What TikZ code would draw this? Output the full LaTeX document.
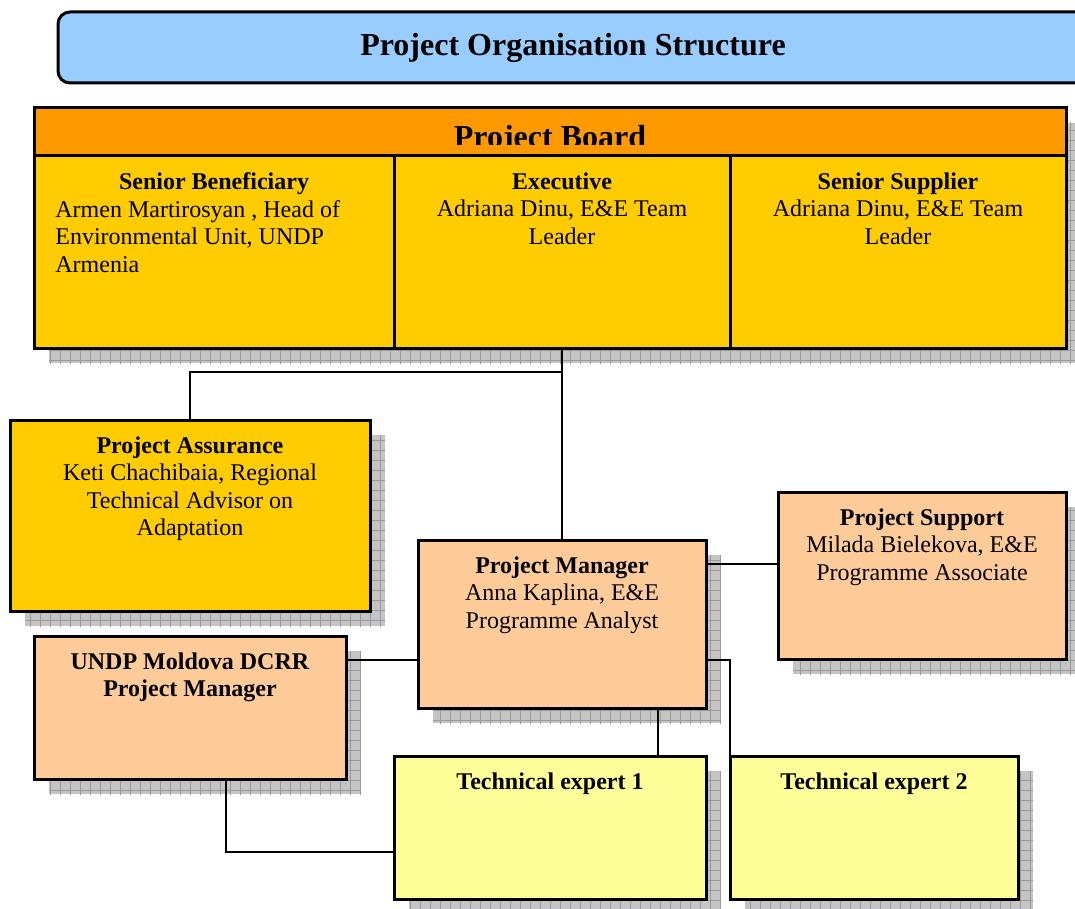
\documentclass[tikz,border=0pt]{standalone}
\usepackage{fontspec}
\setmainfont{Liberation Serif}
\usetikzlibrary{calc}
\definecolor{titleblue}{HTML}{99CCFF}
\definecolor{boardorange}{HTML}{FF9900}
\definecolor{goldbox}{HTML}{FFCC00}
\definecolor{peachbox}{HTML}{FFCC99}
\definecolor{paleyellow}{HTML}{FFFF99}
\definecolor{shadowgray}{HTML}{C4C4C4}
\definecolor{gridgray}{HTML}{9A9A9A}
\tikzset{
  boxline/.style={draw=black, line width=1.5pt},
  orgbox/.style={boxline, rectangle, inner sep=0pt, outer sep=0pt, anchor=north west},
  txt/.style={inner sep=0pt, anchor=north, align=center, font=\fontsize{12}{13.75}\selectfont},
  conn/.style={draw=black, line width=1pt},
  bigbold/.style={inner sep=0pt, anchor=base, font=\fontsize{16}{19}\selectfont\bfseries},
}
\newcommand\boxshadow[4]{%
  \begin{scope}
    \clip (#1+15,#2+15) rectangle (#3+15,#4+15);
    \fill[shadowgray] (#1+15,#2+15) rectangle (#3+15,#4+15);
    \foreach \k in {0,10,...,1100}{%
      \draw[gridgray, line width=0.4pt] (\k,0) -- (\k,930);
      \draw[gridgray, line width=0.4pt] (0,\k) -- (1100,\k);}
  \end{scope}}
\begin{document}
\begin{tikzpicture}[x=0.5pt, y=-0.5pt]
\clip (0,0) rectangle (1075,909);
\fill[white] (0,0) rectangle (1075,909);

% title
\node[boxline, fill=titleblue, rounded corners=6pt, minimum width=515pt, minimum height=35.5pt, inner sep=0pt, outer sep=0pt] (title) at (573,47.5) {};
\node[bigbold] (titletext) at (573,56) {Project Organisation Structure};

% shadows
\boxshadow{34}{108}{1066}{348}
\boxshadow{10}{420}{370}{611}
\boxshadow{418}{540}{706}{708}
\boxshadow{778}{492}{1066}{659}
\boxshadow{34}{636}{346}{779}
\boxshadow{394}{756}{706}{899}
\boxshadow{730}{756}{1018}{899}

% board
\node[orgbox, fill=boardorange, minimum width=516pt, minimum height=24pt] (bh) at (34,108) {};
\node[orgbox, fill=goldbox, minimum width=180pt, minimum height=96pt] (sb) at (34,156) {};
\node[orgbox, fill=goldbox, minimum width=168pt, minimum height=96pt] (ex) at (394,156) {};
\node[orgbox, fill=goldbox, minimum width=168pt, minimum height=96pt] (ss) at (730,156) {};
\begin{scope}
  \clip (34,108) rectangle (1066,145);
  \node[bigbold] (bt) at (550,148) {Project Board};
\end{scope}

% other boxes
\node[orgbox, fill=goldbox, minimum width=180pt, minimum height=95.5pt] (pa) at (10,420) {};
\node[orgbox, fill=peachbox, minimum width=144pt, minimum height=84pt] (pm) at (418,540) {};
\node[orgbox, fill=peachbox, minimum width=144pt, minimum height=83.5pt] (ps) at (778,492) {};
\node[orgbox, fill=peachbox, minimum width=156pt, minimum height=71.5pt] (undp) at (34,636) {};
\node[orgbox, fill=paleyellow, minimum width=156pt, minimum height=71.5pt] (te1) at (394,756) {};
\node[orgbox, fill=paleyellow, minimum width=144pt, minimum height=71.5pt] (te2) at (730,756) {};

% connectors
\coordinate (j1) at (ex.south |- 0,372);
\draw[conn] (ex.south) -- (pm.north);
\draw[conn] (j1) -| (pa.north);
\coordinate (pmR) at ([yshift=-12pt]pm.north east);
\draw[conn] (pmR) -- (pmR -| ps.west);
\coordinate (uR) at ([yshift=-12pt]undp.north east);
\draw[conn] (uR) -- (uR -| pm.west);
\coordinate (pmB) at ([xshift=-24pt]pm.south east);
\draw[conn] (pmB) -- (pmB |- te1.north);
\coordinate (pmR2) at ([yshift=24pt]pm.south east);
\draw[conn] (pmR2) -| (te2.north west);
\coordinate (uB) at ([xshift=18pt]undp.south);
\coordinate (t1L) at ([yshift=-12pt]te1.west);
\draw[conn] (uB) |- (t1L);

% texts
\node[txt] (sbT) at (214,172) {\textbf{Senior Beneficiary}};
\node[txt, anchor=north west, align=left] (sbB) at (55,200) {Armen Martirosyan , Head of\\Environmental Unit, UNDP\\Armenia};
\node[txt] (exT) at (562,172) {\textbf{Executive}\\Adriana Dinu, E\&E Team\\Leader};
\node[txt] (ssT) at (898,172) {\textbf{Senior Supplier}\\Adriana Dinu, E\&E Team\\Leader};
\node[txt] (paT) at (190,436) {\textbf{Project Assurance}\\Keti Chachibaia, Regional\\Technical Advisor on\\Adaptation};
\node[txt] (pmT) at (562,556) {\textbf{Project Manager}\\Anna Kaplina, E\&E\\Programme Analyst};
\node[txt] (psT) at (922,508) {\textbf{Project Support}\\Milada Bielekova, E\&E\\Programme Associate};
\node[txt] (undpT) at (190,652) {\textbf{UNDP Moldova DCRR}\\\textbf{Project Manager}};
\node[txt] (te1T) at (550,772) {\textbf{Technical expert 1}};
\node[txt] (te2T) at (874,772) {\textbf{Technical expert 2}};
\end{tikzpicture}
\end{document}
